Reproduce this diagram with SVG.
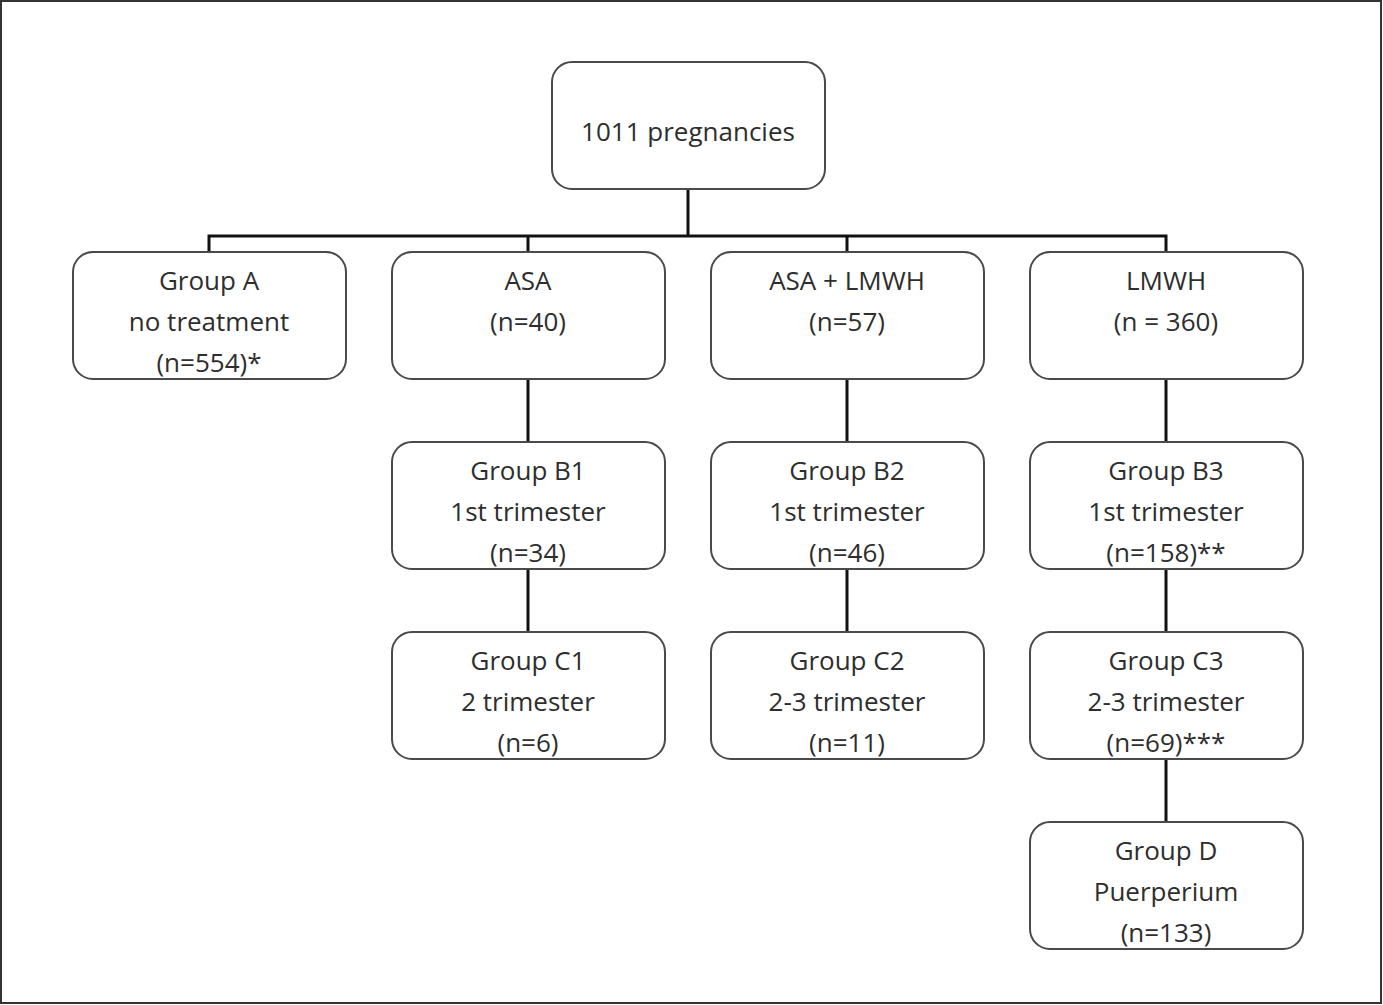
<svg xmlns="http://www.w3.org/2000/svg" width="1383" height="1005" viewBox="0 0 1383 1005">
<style>
.box{fill:#fff;stroke:#4a4a4a;stroke-width:2}
.t{font-family:"Open Sans","Liberation Sans",sans-serif;font-size:26px;fill:#2e2e2e;text-anchor:middle}
.c{stroke:#111;stroke-width:3;fill:none}
</style>
<rect x="1" y="1" width="1380" height="1002" fill="#fff" stroke="#333" stroke-width="2"/>
<g id="connectors">
<path class="c" d="M688 189V236M209 252V236H1166V252M528 236V252M847 236V252"/>
<path class="c" d="M528 379V442M528 569V632M847 379V442M847 569V632M1166 379V442M1166 569V632M1166 759V822"/>
</g>
<g id="n0"><rect class="box" x="552" y="62" width="273" height="127" rx="20"/><text class="t" x="688" y="141">1011 pregnancies</text></g>
<g id="nA"><rect class="box" x="73" y="252" width="273" height="127" rx="20"/><text class="t" x="209" y="290">Group A</text><text class="t" x="209" y="331">no treatment</text><text class="t" x="209" y="372">(n=554)*</text></g>
<g id="nASA"><rect class="box" x="392" y="252" width="273" height="127" rx="20"/><text class="t" x="528" y="290">ASA</text><text class="t" x="528" y="331">(n=40)</text></g>
<g id="nASALMWH"><rect class="box" x="711" y="252" width="273" height="127" rx="20"/><text class="t" x="847" y="290">ASA + LMWH</text><text class="t" x="847" y="331">(n=57)</text></g>
<g id="nLMWH"><rect class="box" x="1030" y="252" width="273" height="127" rx="20"/><text class="t" x="1166" y="290">LMWH</text><text class="t" x="1166" y="331">(n = 360)</text></g>
<g id="nB1"><rect class="box" x="392" y="442" width="273" height="127" rx="20"/><text class="t" x="528" y="480">Group B1</text><text class="t" x="528" y="521">1st trimester</text><text class="t" x="528" y="562">(n=34)</text></g>
<g id="nB2"><rect class="box" x="711" y="442" width="273" height="127" rx="20"/><text class="t" x="847" y="480">Group B2</text><text class="t" x="847" y="521">1st trimester</text><text class="t" x="847" y="562">(n=46)</text></g>
<g id="nB3"><rect class="box" x="1030" y="442" width="273" height="127" rx="20"/><text class="t" x="1166" y="480">Group B3</text><text class="t" x="1166" y="521">1st trimester</text><text class="t" x="1166" y="562">(n=158)**</text></g>
<g id="nC1"><rect class="box" x="392" y="632" width="273" height="127" rx="20"/><text class="t" x="528" y="670">Group C1</text><text class="t" x="528" y="711">2 trimester</text><text class="t" x="528" y="752">(n=6)</text></g>
<g id="nC2"><rect class="box" x="711" y="632" width="273" height="127" rx="20"/><text class="t" x="847" y="670">Group C2</text><text class="t" x="847" y="711">2-3 trimester</text><text class="t" x="847" y="752">(n=11)</text></g>
<g id="nC3"><rect class="box" x="1030" y="632" width="273" height="127" rx="20"/><text class="t" x="1166" y="670">Group C3</text><text class="t" x="1166" y="711">2-3 trimester</text><text class="t" x="1166" y="752">(n=69)***</text></g>
<g id="nD"><rect class="box" x="1030" y="822" width="273" height="127" rx="20"/><text class="t" x="1166" y="860">Group D</text><text class="t" x="1166" y="901">Puerperium</text><text class="t" x="1166" y="942">(n=133)</text></g>
</svg>
